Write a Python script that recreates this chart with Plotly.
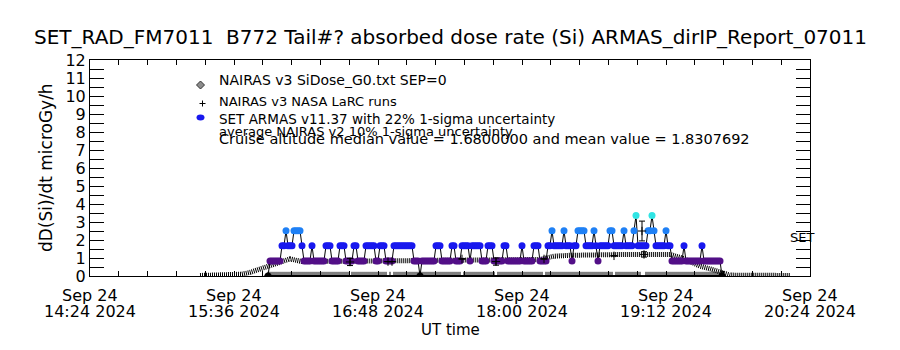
import pandas as pd
import plotly.graph_objects as go

# ---------------- data ----------------
title_text = "SET_RAD_FM7011  B772 Tail#? absorbed dose rate (Si) ARMAS_dirIP_Report_07011"
y_title = "dD(Si)/dt microGy/h"
x_title = "UT time"

x_range = ["2024-09-24 14:24", "2024-09-24 20:24"]
x_tick_times = ["2024-09-24 14:24", "2024-09-24 15:36", "2024-09-24 16:48",
                "2024-09-24 18:00", "2024-09-24 19:12", "2024-09-24 20:24"]
x_tick_line1 = ["Sep 24", "Sep 24", "Sep 24", "Sep 24", "Sep 24", "Sep 24"]
x_tick_line2 = ["14:24 2024", "15:36 2024", "16:48 2024", "18:00 2024", "19:12 2024", "20:24 2024"]
y_tick_vals = [0, 1, 2, 3, 4, 5, 6, 7, 8, 9, 10, 11, 12]

# NAIRAS v3 SiDose_G0 (model profile)
g0_times = ["2024-09-24 15:19", "2024-09-24 15:34", "2024-09-24 15:40", "2024-09-24 15:44",
            "2024-09-24 15:49", "2024-09-24 15:54", "2024-09-24 15:59", "2024-09-24 16:04",
            "2024-09-24 16:10", "2024-09-24 16:24", "2024-09-24 16:54", "2024-09-24 17:24",
            "2024-09-24 17:30", "2024-09-24 17:44", "2024-09-24 18:09", "2024-09-24 18:16",
            "2024-09-24 18:24", "2024-09-24 18:54", "2024-09-24 19:14", "2024-09-24 19:20",
            "2024-09-24 19:24", "2024-09-24 19:29", "2024-09-24 19:34", "2024-09-24 19:40",
            "2024-09-24 19:44", "2024-09-24 20:14"]
g0_values = [0.03, 0.05, 0.10, 0.20, 0.40, 0.60, 0.80, 0.95,
             0.80, 0.82, 0.85, 0.86, 0.88, 0.90, 0.92, 1.10,
             1.15, 1.20, 1.20, 1.00, 0.80, 0.55, 0.40, 0.20,
             0.05, 0.03]

# SET ARMAS, one sample per minute starting 15:53 UT
armas_start = "2024-09-24 15:53"
armas_values = [
    0.0,
    0.84, 0.84, 0.84, 0.84, 0.84, 0.84, 1.68, 1.68, 2.52, 1.68,
    1.68, 1.68, 2.52, 2.52, 2.52, 2.52, 1.68, 0.84, 0.84, 0.84,
    0.84, 1.68, 0.84, 0.84, 0.84, 0.84, 0.84, 0.84, 1.68, 1.68,
    1.68, 0.84, 0.84, 0.84, 0.84, 1.68, 1.68, 1.68, 0.84, 0.84,
    0.84, 0.84, 1.68, 1.68, 0.84, 0.84, 0.84, 0.84, 1.68, 1.68,
    1.68, 1.68, 1.68, 0.84, 0.84, 1.68, 1.68, 1.68, 0.84, 0.84,
    0.84, 0.84, 1.68, 1.68, 1.68, 1.68, 1.68, 1.68, 1.68, 1.68,
    1.68, 1.68, 0.84, 0.84, 0.84, 0.0, 0.84, 0.84, 0.84, 0.84,
    0.84, 0.84, 0.84, 1.68, 1.68, 1.68, 0.84, 0.84, 0.84, 0.84,
    0.84, 1.68, 1.68, 0.84, 0.84, 0.84, 1.68, 1.68, 1.68, 1.68,
    0.84, 1.68, 1.68, 1.68, 1.68, 1.68, 0.84, 0.84, 0.84, 1.68,
    1.68, 1.68, 0.84, 0.84, 0.84, 0.84, 0.84, 1.68, 1.68, 0.84,
    0.84, 0.84, 0.84, 0.84, 0.84, 0.84, 1.68, 0.84, 0.84, 0.84,
    0.84, 0.84, 1.68, 1.68, 1.68, 0.84, 0.84, 0.84, 0.84, 1.68,
    1.68, 2.52, 1.68, 1.68, 1.68, 1.68, 1.68, 2.52, 1.68, 1.68,
    1.68, 0.84, 1.68, 1.68, 2.52, 2.52, 2.52, 2.52, 1.68, 1.68,
    1.68, 1.68, 2.52, 1.68, 0.84, 1.68, 1.68, 1.68, 1.68, 1.68,
    2.52, 2.52, 1.68, 1.68, 1.68, 1.68, 1.68, 2.52, 1.68, 1.68,
    1.68, 1.68, 2.52, 3.36, 1.68, 1.68, 1.68, 1.68, 1.68, 2.52,
    2.52, 3.36, 2.52, 1.68, 1.68, 1.68, 1.68, 1.68, 2.52, 1.68,
    1.68, 0.84, 0.84, 0.84, 0.84, 0.84, 0.84, 1.68, 0.84, 0.84,
    0.84, 0.84, 0.84, 0.84, 0.84, 0.84, 1.68, 0.84, 0.84, 0.84,
    0.84, 0.84, 0.84, 0.84, 0.84, 0.84, 0.0,
]

# NAIRAS v3 NASA LaRC runs at the ARMAS times (mostly zero)
larc_values = [
    0,
    0, 0, 0, 0, 0, 0, 0, 0, 0, 0,
    0, 0, 0, 0, 0, 0, 0, 0, 0, 0,
    0, 0, 0, 0, 0, 0, 0, 0, 0, 0,
    0, 0, 0, 0, 0, 0, 0, 0, 0, 0,
    0.78, 0, 0, 0, 0, 0, 0, 0, 0, 0,
    0, 0, 0, 0, 0, 0, 0, 0, 0, 0.8,
    0, 0.8, 0, 0, 0, 0, 0, 0, 0, 0,
    0, 0, 0, 0, 0, 0, 0, 0, 0, 0,
    0, 0, 0, 0, 0, 0, 0, 0, 0, 0,
    0, 0, 0, 0, 0, 0, 0.95, 0, 0, 0,
    0, 0, 0, 0, 0, 0, 0, 0, 0, 0,
    0, 0, 0, 0.8, 0, 0, 0, 0, 0, 0,
    0, 0, 0, 0, 0, 0, 0, 0, 0, 0,
    0, 0, 0, 0, 0, 0, 0, 0.95, 0, 0,
    0, 0, 0, 0, 0, 0, 0, 0, 0, 0,
    0, 0, 0, 0, 0, 0, 0, 0, 0, 0,
    0, 0, 0, 0, 0, 0, 0, 0, 0, 0,
    0, 0, 1.12, 0, 0, 0, 0, 0, 0, 0,
    0, 0, 0, 0, 0, 0, 2.5, 1.2, 0, 0,
    0, 0, 0, 0, 0, 0, 0, 0, 0, 0,
    0, 0, 0, 0, 0, 0, 0, 0, 0, 0,
    0, 0, 0, 0, 0, 0, 0, 0, 0, 0,
    0, 0, 0, 0, 0, 0, 0,
]
larc_errors = [
    0,
    0, 0, 0, 0, 0, 0, 0, 0, 0, 0,
    0, 0, 0, 0, 0, 0, 0, 0, 0, 0,
    0, 0, 0, 0, 0, 0, 0, 0, 0, 0,
    0, 0, 0, 0, 0, 0, 0, 0, 0, 0,
    0.2, 0, 0, 0, 0, 0, 0, 0, 0, 0,
    0, 0, 0, 0, 0, 0, 0, 0, 0, 0,
    0, 0, 0, 0, 0, 0, 0, 0, 0, 0,
    0, 0, 0, 0, 0, 0, 0, 0, 0, 0,
    0, 0, 0, 0, 0, 0, 0, 0, 0, 0,
    0, 0, 0, 0, 0, 0, 0, 0, 0, 0,
    0, 0, 0, 0, 0, 0, 0, 0, 0, 0,
    0, 0, 0, 0.2, 0, 0, 0, 0, 0, 0,
    0, 0, 0, 0, 0, 0, 0, 0, 0, 0,
    0, 0, 0, 0, 0, 0, 0, 0, 0, 0,
    0, 0, 0, 0, 0, 0, 0, 0, 0, 0,
    0, 0, 0, 0, 0, 0, 0, 0, 0, 0,
    0, 0, 0, 0, 0, 0, 0, 0, 0, 0,
    0, 0, 0, 0, 0, 0, 0, 0, 0, 0,
    0, 0, 0, 0, 0, 0, 0.55, 0.15, 0, 0,
    0, 0, 0, 0, 0, 0, 0, 0, 0, 0,
    0, 0, 0, 0, 0, 0, 0, 0, 0, 0,
    0, 0, 0, 0, 0, 0, 0, 0, 0, 0,
    0, 0, 0, 0, 0, 0, 0,
]

legend_labels = ["NAIRAS v3 SiDose_G0.txt SEP=0",
                 "NAIRAS v3 NASA LaRC runs",
                 "SET ARMAS v11.37 with 22% 1-sigma uncertainty",
                 "average NAIRAS v2 10% 1-sigma uncertainty",
                 "Cruise altitude median value = 1.6800000 and mean value = 1.8307692"]
side_label = "SET"

# ---------------- figure ----------------
FONT = "DejaVu Sans"
armas_times = pd.date_range(armas_start, periods=len(armas_values), freq="min")

fig = go.Figure()

# NAIRAS G0 band (dithered look)
fig.add_trace(go.Scatter(
    x=pd.to_datetime(g0_times), y=g0_values, mode="lines",
    line=dict(color="#000000", width=5, dash="1px,1px"),
    hoverinfo="skip", showlegend=False))

# ARMAS: black connecting line + coloured dots
fig.add_trace(go.Scatter(
    x=armas_times, y=armas_values, mode="lines+markers",
    line=dict(color="#000000", width=1),
    marker=dict(size=7, color=armas_values, cmin=0, cmax=3.36,
                colorscale=[[0.0, "#000000"], [0.25, "#520f87"], [0.5, "#1818ee"],
                            [0.75, "#1f80f5"], [1.0, "#30e4e4"]],
                line=dict(width=0)),
    showlegend=False))

# NASA LaRC runs: plus signs with error bars
fig.add_trace(go.Scatter(
    x=armas_times, y=larc_values, mode="markers",
    marker=dict(symbol="cross-thin", size=6, color="#000000",
                line=dict(color="#000000", width=1)),
    error_y=dict(type="data", array=larc_errors, visible=True,
                 color="#000000", thickness=1, width=3),
    showlegend=False))

annotations = []
# title
annotations.append(dict(text=title_text, x=0.5, y=1, xref="paper", yref="paper",
                        yshift=23, xanchor="center", yanchor="middle", showarrow=False,
                        font=dict(family=FONT, size=20, color="#000000")))
# y title
annotations.append(dict(text=y_title, x=0, y=0.5, xref="paper", yref="paper",
                        xshift=-44, textangle=-90, xanchor="center", yanchor="middle",
                        showarrow=False, font=dict(family=FONT, size=17, color="#000000")))
# x title
annotations.append(dict(text=x_title, x=0.5, y=0, xref="paper", yref="paper",
                        yshift=-54, xanchor="center", yanchor="middle", showarrow=False,
                        font=dict(family=FONT, size=15, color="#000000")))
# x tick labels (two lines, IDL style)
for t, l1, l2 in zip(x_tick_times, x_tick_line1, x_tick_line2):
    annotations.append(dict(text=l1, x=t, y=0, xref="x", yref="paper", yshift=-19,
                            xanchor="center", yanchor="middle", showarrow=False,
                            font=dict(family=FONT, size=16, color="#000000")))
    annotations.append(dict(text=l2, x=t, y=0, xref="x", yref="paper", yshift=-35,
                            xanchor="center", yanchor="middle", showarrow=False,
                            font=dict(family=FONT, size=16, color="#000000")))
# legend text
legend_y = [0.907, 0.810, 0.727, 0.668, 0.635]
legend_sizes = [14, 13, 13.5, 13, 14.5]
for txt, yy, fs in zip(legend_labels, legend_y, legend_sizes):
    annotations.append(dict(text=txt, x=0.1764, y=yy, xref="paper", yref="paper",
                            xanchor="left", yanchor="middle", showarrow=False,
                            font=dict(family=FONT, size=fs, color="#000000")))
annotations.append(dict(text=side_label, x=0.969, y=0.18, xref="paper", yref="paper",
                        xanchor="left", yanchor="middle", showarrow=False,
                        font=dict(family=FONT, size=13, color="#000000")))

shapes = [
    # diamond key
    dict(type="path", xref="paper", yref="paper", xsizemode="pixel", ysizemode="pixel",
         xanchor=(200.5 - 90) / 720, yanchor=(276 - 85) / 216,
         path="M 0,4 L 4,0 L 0,-4 L -4,0 Z",
         fillcolor="#8c8c8c", line=dict(color="#333333", width=1)),
    # plus key
    dict(type="path", xref="paper", yref="paper", xsizemode="pixel", ysizemode="pixel",
         xanchor=(202.5 - 90) / 720, yanchor=(276 - 103.5) / 216,
         path="M -3,0 L 3,0 M 0,-3 L 0,3",
         line=dict(color="#000000", width=1)),
    # ARMAS key
    dict(type="circle", xref="paper", yref="paper", xsizemode="pixel", ysizemode="pixel",
         xanchor=(200.5 - 90) / 720, yanchor=(276 - 117.5) / 216,
         x0=-4, x1=4, y0=-3, y1=3,
         fillcolor="#1818ee", line=dict(width=0)),
]

fig.update_layout(
    width=900, height=350,
    margin=dict(l=90, r=90, t=60, b=74, pad=0),
    paper_bgcolor="white", plot_bgcolor="white",
    showlegend=False,
    annotations=annotations,
    shapes=shapes,
    font=dict(family=FONT, color="#000000"),
    xaxis=dict(type="date", range=x_range, showgrid=False, zeroline=False,
               showline=True, linecolor="#000000", linewidth=1, mirror="ticks",
               ticks="inside", ticklen=5, tickcolor="#000000",
               tickvals=x_tick_times, showticklabels=False,
               minor=dict(ticks="inside", ticklen=5, tickcolor="#000000",
                          dtick=864000, tick0=x_range[0], showgrid=False)),
    yaxis=dict(range=[0, 12], showgrid=False, zeroline=False,
               showline=True, linecolor="#000000", linewidth=1, mirror="ticks",
               ticks="inside", ticklen=14, tickcolor="#000000",
               tickvals=y_tick_vals,
               tickfont=dict(family=FONT, size=16, color="#000000"),
               minor=dict(ticks="inside", ticklen=14, tickcolor="#000000",
                          dtick=0.5, showgrid=False)),
)

fig.write_html("out.html")
